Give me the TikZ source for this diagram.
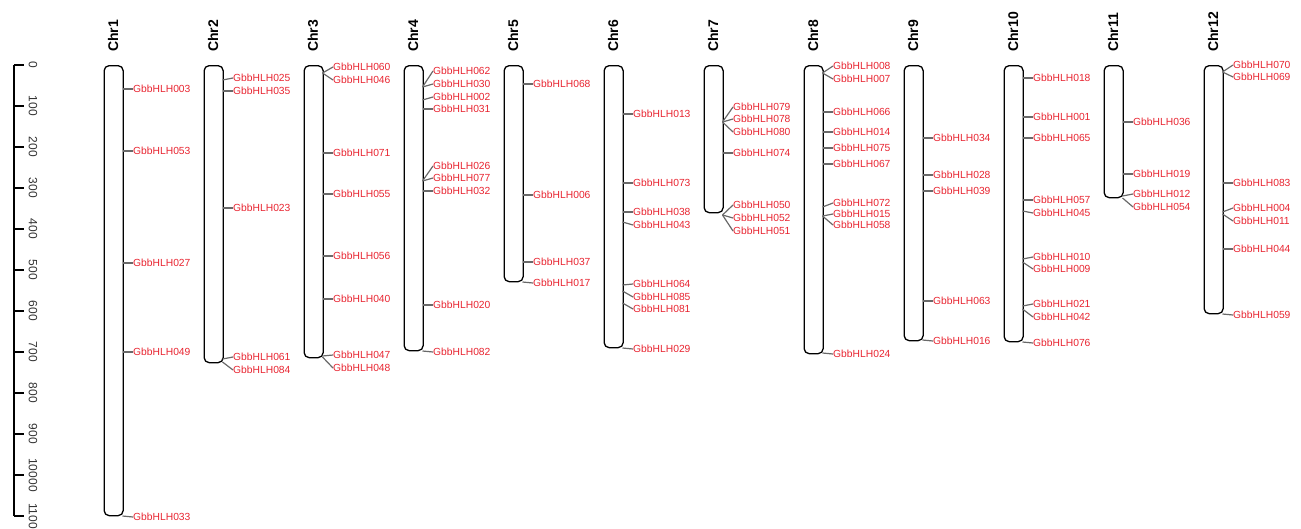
\documentclass[tikz,border=0pt]{standalone}
\usepackage{fontspec}
\setmainfont{Liberation Sans}
\definecolor{lab}{RGB}{232,36,48}
\definecolor{con}{RGB}{105,105,105}
\tikzset{
 chrbox/.style={draw=black, line width=1.3pt, rounded corners=5pt, inner sep=0pt},
 gl/.style={anchor=west, inner sep=0pt, text=lab, font=\fontsize{10.3}{10.3}\selectfont},
 cn/.style={draw=con, line width=1.2pt},
 chrlab/.style={rotate=90, anchor=west, inner sep=0pt, font=\bfseries\fontsize{14}{14}\selectfont},
 sclab/.style={rotate=-90, inner sep=0pt, text=black!80, font=\fontsize{12}{12}\selectfont},
 axisline/.style={draw=black, line width=1.2pt},
}
\newcommand\chrm[2]{%
 \node[chrbox, anchor=north west, minimum width=19pt, minimum height={(#2-65)*1pt}] (chr#1) at ({103.5+100*(#1-1)},65) {};
 \node[chrlab] (lab#1) at ({113+100*(#1-1)},52) {Chr#1};}
\newcommand\gn[4]{%
 \coordinate (p#4) at ({122.5+100*(#1-1)},#2);
 \node[gl] (g#4) at ({133+100*(#1-1)},#3) {GbbHLH#4};
 \draw[cn] (p#4) -- (g#4.west);}
\begin{document}
\begin{tikzpicture}[x=1pt,y=-1pt]
\useasboundingbox (0,0) rectangle (1301,528);
% scale
\coordinate (s0) at (14,65);
\coordinate (s1) at (14,516);
\draw[axisline] (s0) -- (s1);
\foreach \k/\t in {0/0,1/100,2/200,3/300,4/400,5/500,6/600,7/700,8/800,9/900,10/10000,11/1100}{
 \coordinate (t\k) at (14,{65+41*\k});
 \coordinate (u\k) at (24,{65+41*\k});
 \draw[axisline] (t\k) -- (u\k);
 \node[sclab] (sl\k) at (33,{65+41*\k}) {\t};
}
% chromosomes
\chrm{1}{515}
\chrm{2}{362}
\chrm{3}{357}
\chrm{4}{350}
\chrm{5}{281}
\chrm{6}{347}
\chrm{7}{212}
\chrm{8}{353}
\chrm{9}{340}
\chrm{10}{341}
\chrm{11}{197}
\chrm{12}{313}
% Chr1
\gn{1}{89}{89}{003}
\gn{1}{151}{151}{053}
\gn{1}{263}{263}{027}
\gn{1}{352}{352}{049}
\gn{1}{516}{517}{033}
% Chr2
\gn{2}{80}{78}{025}
\gn{2}{91}{91}{035}
\gn{2}{208}{208}{023}
\gn{2}{359}{357}{061}
\gn{2}{362}{370}{084}
% Chr3
\gn{3}{73}{67}{060}
\gn{3}{73}{80}{046}
\gn{3}{153}{153}{071}
\gn{3}{194}{194}{055}
\gn{3}{256}{256}{056}
\gn{3}{299}{299}{040}
\gn{3}{356}{355}{047}
\gn{3}{357}{368}{048}
% Chr4
\gn{4}{87}{71}{062}
\gn{4}{87}{84}{030}
\gn{4}{100}{97}{002}
\gn{4}{109}{109}{031}
\gn{4}{181}{166}{026}
\gn{4}{181}{178}{077}
\gn{4}{191}{191}{032}
\gn{4}{305}{305}{020}
\gn{4}{351}{352}{082}
% Chr5
\gn{5}{84}{84}{068}
\gn{5}{195}{195}{006}
\gn{5}{262}{262}{037}
\gn{5}{282}{283}{017}
% Chr6
\gn{6}{114}{114}{013}
\gn{6}{183}{183}{073}
\gn{6}{212}{212}{038}
\gn{6}{222}{225}{043}
\gn{6}{285}{284}{064}
\gn{6}{291}{297}{085}
\gn{6}{303}{309}{081}
\gn{6}{348}{349}{029}
% Chr7
\gn{7}{122}{107}{079}
\gn{7}{122}{119}{078}
\gn{7}{122}{132}{080}
\gn{7}{153}{153}{074}
\gn{7}{215}{205}{050}
\gn{7}{215}{218}{052}
\gn{7}{215}{231}{051}
% Chr8
\gn{8}{73}{66}{008}
\gn{8}{73}{79}{007}
\gn{8}{112}{112}{066}
\gn{8}{132}{132}{014}
\gn{8}{148}{148}{075}
\gn{8}{164}{164}{067}
\gn{8}{207}{203}{072}
\gn{8}{216}{214}{015}
\gn{8}{216}{225}{058}
\gn{8}{353}{354}{024}
% Chr9
\gn{9}{138}{138}{034}
\gn{9}{175}{175}{028}
\gn{9}{191}{191}{039}
\gn{9}{301}{301}{063}
\gn{9}{340}{341}{016}
% Chr10
\gn{10}{78}{78}{018}
\gn{10}{117}{117}{001}
\gn{10}{138}{138}{065}
\gn{10}{200}{200}{057}
\gn{10}{211}{213}{045}
\gn{10}{259}{257}{010}
\gn{10}{262}{269}{009}
\gn{10}{306}{304}{021}
\gn{10}{309}{317}{042}
\gn{10}{342}{343}{076}
% Chr11
\gn{11}{122}{122}{036}
\gn{11}{174}{174}{019}
\gn{11}{196}{194}{012}
\gn{11}{198}{207}{054}
% Chr12
\gn{12}{72}{65}{070}
\gn{12}{72}{77}{069}
\gn{12}{183}{183}{083}
\gn{12}{212}{208}{004}
\gn{12}{214}{221}{011}
\gn{12}{249}{249}{044}
\gn{12}{314}{315}{059}
\end{tikzpicture}
\end{document}
